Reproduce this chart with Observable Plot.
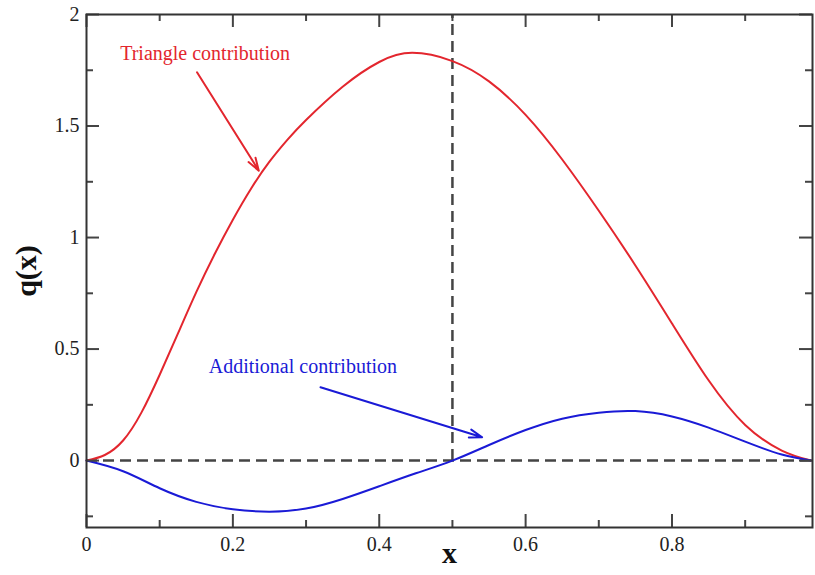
<!DOCTYPE html>
<html>
<head>
<meta charset="utf-8">
<script src="https://cdn.jsdelivr.net/npm/d3@7"></script>
<script src="https://cdn.jsdelivr.net/npm/@observablehq/plot@0.6"></script>
<style>
  html, body { margin: 0; padding: 0; background: #fff; }
  #chart svg { display: block; }
</style>
</head>
<body>
<div id="chart"></div>
<script>
// Triangle contribution (red)
const triX = [0, 0.025, 0.05, 0.075, 0.1, 0.125, 0.15, 0.175, 0.2, 0.225, 0.25, 0.275, 0.3, 0.35, 0.4, 0.445, 0.5, 0.55, 0.6, 0.65, 0.7, 0.75, 0.8, 0.85, 0.9, 0.95, 0.99];
const triY = [0, 0.025, 0.09, 0.215, 0.385, 0.57, 0.755, 0.925, 1.08, 1.22, 1.34, 1.44, 1.527, 1.676, 1.787, 1.828, 1.791, 1.70, 1.55, 1.35, 1.12, 0.875, 0.615, 0.36, 0.16, 0.045, 0];
// Additional contribution (blue)
const addX = [0, 0.05, 0.1, 0.15, 0.2, 0.25, 0.3, 0.35, 0.4, 0.45, 0.5, 0.55, 0.6, 0.65, 0.7, 0.75, 0.8, 0.85, 0.9, 0.95, 0.99];
const addY = [0, -0.048, -0.124, -0.185, -0.218, -0.229, -0.215, -0.172, -0.115, -0.057, 0, 0.07, 0.137, 0.188, 0.215, 0.222, 0.198, 0.148, 0.085, 0.027, 0];

const xMajor = [0, 0.2, 0.4, 0.6, 0.8];
const xMinor = [0.1, 0.3, 0.5, 0.7, 0.9];
const yMajor = [0, 0.5, 1, 1.5, 2];
const yMinor = [-0.25, 0.25, 0.75, 1.25, 1.75];
const xDomain = [0, 0.992];
const yDomain = [-0.3, 2];
const midX = 0.5;

// annotations: label text and arrow endpoints (data units)
const annotations = [
  {label: "Triangle contribution", tx: 0.046, ty: 1.825, x1: 0.151, y1: 1.741, x2: 0.2354, y2: 1.30, color: "#e3262e"},
  {label: "Additional contribution", tx: 0.167, ty: 0.42, x1: 0.3197, y1: 0.329, x2: 0.5406, y2: 0.1045, color: "#1a1ad6"}
];

const tri = triX.map((x, i) => ({x, y: triY[i]}));
const add = addX.map((x, i) => ({x, y: addY[i]}));

const W = 815, H = 575;
const mL = 86, mR = 3, mT = 14, mB = 48;
const pw = W - mL - mR, ph = H - mT - mB;
const majorLen = 13, minorLen = 7;
const tickColor = "#444";
const font = "'Liberation Serif', 'Times New Roman', serif";

const chart = Plot.plot({
  width: W, height: H,
  marginLeft: mL, marginRight: mR, marginTop: mT, marginBottom: mB,
  style: {fontFamily: font, background: "#fff"},
  x: {domain: xDomain},
  y: {domain: yDomain},
  marks: [
    // dashed reference lines
    Plot.ruleY([0], {stroke: "#444", strokeWidth: 2.5, strokeDasharray: "11,6"}),
    Plot.ruleX([midX], {y1: 0, y2: yDomain[1], stroke: "#444", strokeWidth: 2.5, strokeDasharray: "11,6"}),
    // curves
    Plot.line(tri, {x: "x", y: "y", stroke: "#e3262e", strokeWidth: 2, curve: "natural"}),
    Plot.line(add, {x: "x", y: "y", stroke: "#1a1ad6", strokeWidth: 2, curve: "natural"}),
    // annotations
    Plot.arrow(annotations, {x1: "x1", y1: "y1", x2: "x2", y2: "y2", stroke: "color", strokeWidth: 2, headLength: 10, headAngle: 36}),
    Plot.text(annotations, {x: "tx", y: "ty", text: "label", fill: "color", textAnchor: "start", fontSize: 20, fontFamily: font}),
    // ticks (inward, all four sides)
    Plot.tickX(xMajor, {x: d => d, insetTop: ph - majorLen, stroke: tickColor, strokeWidth: 2}),
    Plot.tickX(xMinor, {x: d => d, insetTop: ph - minorLen, stroke: tickColor, strokeWidth: 2}),
    Plot.tickX(xMajor, {x: d => d, insetBottom: ph - majorLen, stroke: tickColor, strokeWidth: 2}),
    Plot.tickX(xMinor, {x: d => d, insetBottom: ph - minorLen, stroke: tickColor, strokeWidth: 2}),
    Plot.tickY(yMajor, {y: d => d, insetRight: pw - majorLen, stroke: tickColor, strokeWidth: 2}),
    Plot.tickY(yMinor, {y: d => d, insetRight: pw - minorLen, stroke: tickColor, strokeWidth: 2}),
    Plot.tickY(yMajor, {y: d => d, insetLeft: pw - majorLen, stroke: tickColor, strokeWidth: 2}),
    Plot.tickY(yMinor, {y: d => d, insetLeft: pw - minorLen, stroke: tickColor, strokeWidth: 2}),
    // tick labels
    Plot.axisX(xMajor, {anchor: "bottom", tickSize: 0, tickPadding: 9, fontSize: 20, fontFamily: font, fill: "#222", label: null, tickFormat: d => String(d)}),
    Plot.axisY(yMajor, {anchor: "left", tickSize: 0, tickPadding: 7, fontSize: 20, fontFamily: font, fill: "#222", label: null, tickFormat: d => String(d)}),
    // axis titles
    Plot.text(["x"], {frameAnchor: "bottom", text: d => d, dy: 35, fontSize: 30, fontWeight: "bold", fontFamily: font, fill: "#111"}),
    Plot.text(["q(x)"], {frameAnchor: "left", textAnchor: "middle", text: d => d, dx: -60, rotate: -90, fontSize: 30, fontWeight: "bold", fontFamily: font, fill: "#111"}),
    Plot.frame({stroke: "#333", strokeWidth: 2})
  ]
});
document.getElementById("chart").appendChild(chart);
</script>
</body>
</html>
